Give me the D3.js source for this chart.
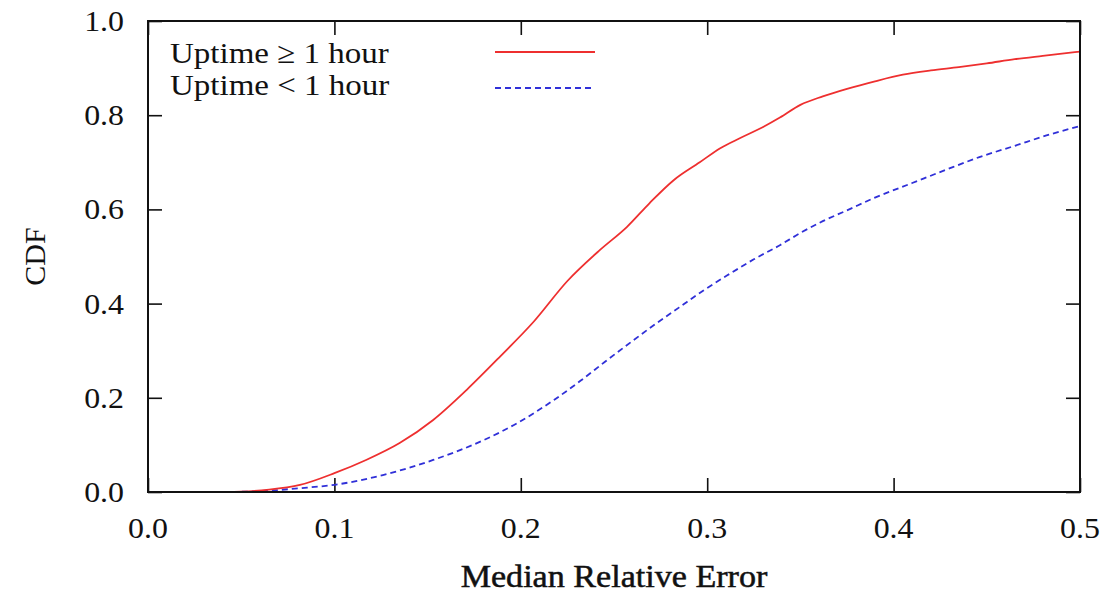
<!DOCTYPE html>
<html>
<head>
<meta charset="utf-8">
<script src="https://cdn.jsdelivr.net/npm/d3@7/dist/d3.min.js"></script>
<style>
  html, body { margin: 0; padding: 0; background: #fff; }
  svg { display: block; }
  text { font-family: "Liberation Serif", "Times New Roman", serif; fill: #111; }
</style>
</head>
<body>
<svg id="chart" width="1103" height="594"></svg>
<script>
// CDF of median relative error, split by node uptime
const highUptimeError = [0.03, 0.05, 0.065, 0.0815, 0.1, 0.117, 0.135, 0.153, 0.171, 0.189, 0.207, 0.225, 0.2425, 0.257, 0.269, 0.282, 0.296, 0.307, 0.318, 0.33, 0.339, 0.35, 0.362, 0.375, 0.39, 0.405, 0.42, 0.435, 0.45, 0.465, 0.48, 0.5];
const highUptimeCdf   = [0, 0.001, 0.005, 0.015, 0.04, 0.068, 0.104, 0.153, 0.217, 0.288, 0.362, 0.448, 0.514, 0.563, 0.613, 0.662, 0.70, 0.73, 0.752, 0.775, 0.795, 0.822, 0.84, 0.856, 0.872, 0.886, 0.895, 0.902, 0.91, 0.919, 0.926, 0.935];

const lowUptimeError = [0.045, 0.065, 0.0815, 0.103, 0.126, 0.153, 0.18, 0.198, 0.218, 0.232, 0.245, 0.259, 0.272, 0.285, 0.298, 0.312, 0.325, 0.339, 0.35, 0.362, 0.375, 0.39, 0.41, 0.428, 0.446, 0.465, 0.482, 0.5];
const lowUptimeCdf   = [0, 0.003, 0.008, 0.017, 0.036, 0.068, 0.11, 0.146, 0.196, 0.236, 0.276, 0.318, 0.356, 0.392, 0.428, 0.463, 0.494, 0.524, 0.55, 0.575, 0.598, 0.625, 0.656, 0.684, 0.711, 0.735, 0.757, 0.777];

const seriesNames = ["Uptime \u2265 1 hour", "Uptime < 1 hour"];
const xTicks = [0, 0.1, 0.2, 0.3, 0.4, 0.5];
const yTicks = [0, 0.2, 0.4, 0.6, 0.8, 1.0];
const xTitle = "Median Relative Error";
const yTitle = "CDF";

const svg = d3.select("#chart");
const plotLeft = 148, plotRight = 1080, plotTop = 21, plotBottom = 492;

const x = d3.scaleLinear().domain([0, 0.5]).range([plotLeft, plotRight]);
const y = d3.scaleLinear().domain([0, 1]).range([plotBottom, plotTop]);

const fmt = d3.format(".1f");
const tickLen = 14;
const stretch = "scale(1.1,1)";
const redColor = "#ee2f2f", blueColor = "#3030d8";

// mirrored inward ticks on all four sides
svg.append("g").attr("transform", `translate(0,${plotBottom})`)
  .call(d3.axisTop(x).tickValues(xTicks).tickSize(tickLen).tickFormat(""))
  .call(g => g.select(".domain").remove());
svg.append("g").attr("transform", `translate(0,${plotTop})`)
  .call(d3.axisBottom(x).tickValues(xTicks).tickSize(tickLen).tickFormat(""))
  .call(g => g.select(".domain").remove());
svg.append("g").attr("transform", `translate(${plotLeft},0)`)
  .call(d3.axisRight(y).tickValues(yTicks).tickSize(tickLen).tickFormat(""))
  .call(g => g.select(".domain").remove());
svg.append("g").attr("transform", `translate(${plotRight},0)`)
  .call(d3.axisLeft(y).tickValues(yTicks).tickSize(tickLen).tickFormat(""))
  .call(g => g.select(".domain").remove());
svg.selectAll(".tick line").attr("stroke", "#111").attr("stroke-width", 1.6);

// tick labels
svg.append("g").selectAll("text").data(xTicks).join("text")
  .attr("transform", d => `translate(${x(d)},538) ${stretch}`)
  .attr("text-anchor", "middle")
  .attr("font-size", 29)
  .text(fmt);
svg.append("g").selectAll("text").data(yTicks).join("text")
  .attr("transform", d => `translate(124,${y(d) + 10}) ${stretch}`)
  .attr("text-anchor", "end")
  .attr("font-size", 29)
  .text(fmt);

// axis titles
svg.append("text")
  .attr("transform", `translate(${(plotLeft + plotRight) / 2},587) ${stretch}`)
  .attr("text-anchor", "middle")
  .attr("font-size", 31)
  .attr("stroke", "#111").attr("stroke-width", 0.5)
  .text(xTitle);
svg.append("text")
  .attr("transform", `translate(45,${(plotTop + plotBottom) / 2}) rotate(-90)`)
  .attr("text-anchor", "middle")
  .attr("font-size", 30)
  .text(yTitle);

// curves
const line = d3.line().x(d => x(d[0])).y(d => y(d[1])).curve(d3.curveMonotoneX);
const high = d3.zip(highUptimeError, highUptimeCdf);
const low = d3.zip(lowUptimeError, lowUptimeCdf);

const plot = svg.append("g");
plot.append("path").datum(low)
  .attr("fill", "none").attr("stroke", blueColor).attr("stroke-width", 1.8)
  .attr("stroke-dasharray", "6,4")
  .attr("d", line);
plot.append("path").datum(high)
  .attr("fill", "none").attr("stroke", redColor).attr("stroke-width", 1.8)
  .attr("d", line);

// frame
svg.append("rect")
  .attr("x", plotLeft).attr("y", plotTop)
  .attr("width", plotRight - plotLeft).attr("height", plotBottom - plotTop)
  .attr("fill", "none").attr("stroke", "#111").attr("stroke-width", 2);

// legend
const legend = svg.append("g");
const legendColors = [redColor, blueColor];
const legendDash = [null, "6,4"];
const legendTextY = [63, 95];
const legendLineY = [52, 88];
seriesNames.forEach((name, i) => {
  legend.append("text")
    .attr("transform", `translate(170,${legendTextY[i]}) ${stretch}`)
    .attr("font-size", 30)
    .text(name);
  legend.append("line")
    .attr("x1", 495).attr("x2", 595).attr("y1", legendLineY[i]).attr("y2", legendLineY[i])
    .attr("stroke", legendColors[i]).attr("stroke-width", 1.8)
    .attr("stroke-dasharray", legendDash[i]);
});
</script>
</body>
</html>
